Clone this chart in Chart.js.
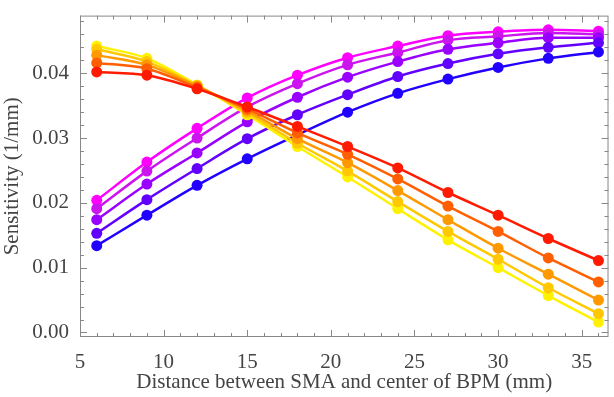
<!DOCTYPE html>
<html>
<head>
<meta charset="utf-8">
<script src="https://cdn.jsdelivr.net/npm/chart.js@4"></script>
<style>
  html, body { margin: 0; padding: 0; background: #fff; }
  #wrap { width: 614px; height: 397px; }
</style>
</head>
<body>
<div id="wrap"><canvas id="sensChart" width="614" height="397"></canvas></div>
<script>
// distance between SMA and BPM center (mm)
const distances = [6, 9, 12, 15, 18, 21, 24, 27, 30, 33, 36];

// falling curves
const fallYellow = [0.0442, 0.0423, 0.0382, 0.0336, 0.0287, 0.0240, 0.0191, 0.0143, 0.0100, 0.0057, 0.0016];
const fallGold   = [0.0437, 0.0418, 0.0381, 0.0339, 0.0292, 0.0249, 0.0202, 0.0156, 0.0113, 0.0069, 0.0029];
const fallOrange = [0.0428, 0.0413, 0.0380, 0.0342, 0.0299, 0.0262, 0.0219, 0.0174, 0.0130, 0.0090, 0.0050];
const fallDarkOr = [0.0416, 0.0407, 0.0378, 0.0345, 0.0308, 0.0275, 0.0237, 0.0195, 0.0156, 0.0115, 0.0078];
const fallRed    = [0.0402, 0.0397, 0.0376, 0.0348, 0.0318, 0.0287, 0.0254, 0.0216, 0.0181, 0.0145, 0.0111];

// rising curves
const riseMagenta = [0.0204, 0.0263, 0.0315, 0.0362, 0.0397, 0.0424, 0.0442, 0.0458, 0.0464, 0.0467, 0.0465];
const riseViolet  = [0.0191, 0.0249, 0.0300, 0.0348, 0.0384, 0.0413, 0.0432, 0.0451, 0.0457, 0.0462, 0.0460];
const risePurple  = [0.0174, 0.0229, 0.0277, 0.0325, 0.0363, 0.0394, 0.0418, 0.0437, 0.0447, 0.0455, 0.0455];
const riseIndigo  = [0.0153, 0.0205, 0.0253, 0.0299, 0.0336, 0.0367, 0.0395, 0.0415, 0.0430, 0.0440, 0.0447];
const riseBlue    = [0.0134, 0.0181, 0.0227, 0.0268, 0.0305, 0.0340, 0.0369, 0.0391, 0.0409, 0.0423, 0.0433];

const xTicks = [5, 10, 15, 20, 25, 30, 35];
const yTicks = [0.00, 0.01, 0.02, 0.03, 0.04];

const FONT = "'Liberation Serif', 'Times New Roman', serif";
const TEXT = '#444';
const FRAME = '#888';

// first in list is drawn on top
const series = [
  [fallRed, '#ff1a00'],
  [fallDarkOr, '#ff5f00'],
  [fallOrange, '#ff9900'],
  [fallGold, '#ffc800'],
  [fallYellow, '#fff200'],
  [riseBlue, '#2200ff'],
  [riseIndigo, '#6200ff'],
  [risePurple, '#9a00ff'],
  [riseViolet, '#cc14ee'],
  [riseMagenta, '#ff00ff']
];

const datasets = series.map(([vals, col]) => ({
  data: distances.map((d, i) => ({ x: d, y: vals[i] })),
  borderColor: col,
  backgroundColor: col,
  borderWidth: 2.5,
  pointRadius: 5.5,
  pointBorderWidth: 0,
  pointHoverRadius: 5.5,
  cubicInterpolationMode: 'monotone',
  clip: false
}));

// Mathematica style frame with inward ticks on all sides
const frameTicks = {
  id: 'frameTicks',
  beforeDatasetsDraw(chart) {
    const { ctx, chartArea: a, scales: { x, y } } = chart;
    ctx.save();
    ctx.strokeStyle = FRAME;
    ctx.lineWidth = 1;
    ctx.strokeRect(a.left + 0.5, a.top + 0.5, a.right - a.left - 1, a.bottom - a.top - 1);
    ctx.beginPath();
    for (let v = 5; v <= x.max + 1e-9; v += 1) {
      const px = Math.round(x.getPixelForValue(v)) + 0.5;
      const len = (v % 5 === 0) ? 7 : 4;
      ctx.moveTo(px, a.bottom); ctx.lineTo(px, a.bottom - len);
      ctx.moveTo(px, a.top); ctx.lineTo(px, a.top + len);
    }
    for (let k = 0; k * 0.002 <= y.max + 1e-9; k++) {
      const v = k * 0.002;
      const py = Math.round(y.getPixelForValue(v)) + 0.5;
      const len = (k % 5 === 0) ? 7 : 4;
      ctx.moveTo(a.left, py); ctx.lineTo(a.left + len, py);
      ctx.moveTo(a.right, py); ctx.lineTo(a.right - len, py);
    }
    ctx.stroke();
    ctx.restore();
  }
};

new Chart(document.getElementById('sensChart'), {
  type: 'line',
  data: { datasets },
  options: {
    responsive: false,
    animation: false,
    layout: { padding: { top: 11, right: 4, left: 0, bottom: 0 } },
    plugins: { legend: { display: false }, tooltip: { enabled: false } },
    scales: {
      x: {
        type: 'linear',
        min: 5,
        max: 36.6,
        afterBuildTicks: s => { s.ticks = xTicks.map(v => ({ value: v })); },
        afterFit: s => { s.height = 60; },
        grid: { display: false },
        border: { display: false },
        ticks: { color: TEXT, font: { family: FONT, size: 21 }, padding: 5, maxRotation: 0 },
        title: {
          display: true,
          text: 'Distance between SMA and center of BPM (mm)',
          color: TEXT,
          font: { family: FONT, size: 21 },
          padding: { top: 0, bottom: 2 }
        }
      },
      y: {
        min: -0.0007,
        max: 0.0489,
        afterBuildTicks: s => { s.ticks = yTicks.map(v => ({ value: v })); },
        afterFit: s => { s.width = 80; },
        grid: { display: false },
        border: { display: false },
        ticks: { color: TEXT, font: { family: FONT, size: 21 }, padding: 3, callback: v => v.toFixed(2) },
        title: {
          display: true,
          text: 'Sensitivity (1/mm)',
          color: TEXT,
          font: { family: FONT, size: 21 },
          padding: { top: 0, bottom: 0 }
        }
      }
    }
  },
  plugins: [frameTicks]
});
</script>
</body>
</html>
